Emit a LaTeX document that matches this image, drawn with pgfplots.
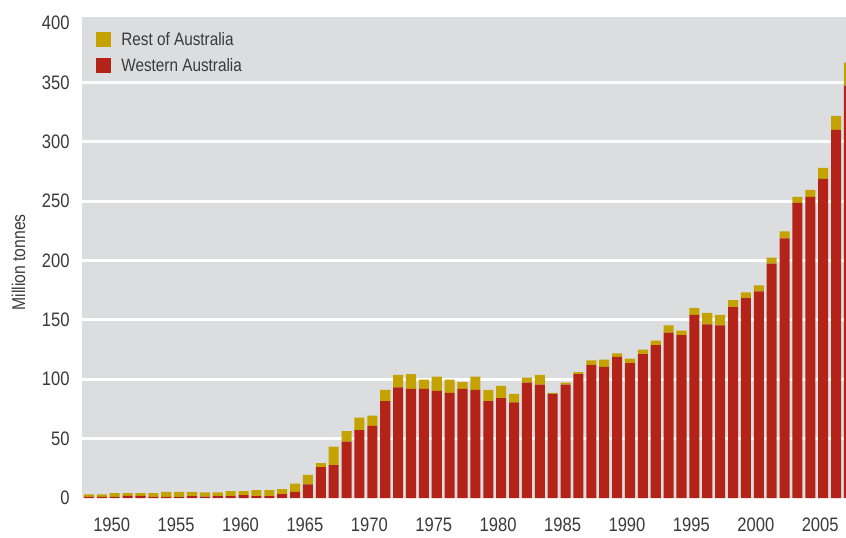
\documentclass[border=0pt]{standalone}
\usepackage{fontspec}
\setmainfont[FakeStretch=0.85]{Liberation Sans}
\usepackage{pgfplots}
\usepackage{pgfplotstable}
\pgfplotsset{compat=1.18}
\definecolor{restAus}{RGB}{196,162,0}
\definecolor{waRed}{RGB}{179,35,24}
\definecolor{panel}{RGB}{220,221,223}
\definecolor{txt}{RGB}{58,58,58}

% iron ore production, million tonnes
\pgfplotstableread{
year wa rest
1948 0.9 2.1
1949 0.9 2.1
1950 0.9 3.3
1951 1.8 2.4
1952 1.8 2.4
1953 0.9 3.3
1954 0.9 4.2
1955 0.9 4.2
1956 1.6 3.5
1957 1.2 3.6
1958 1.5 3.3
1959 1.5 4.2
1960 2.4 3.3
1961 1.5 5.1
1962 1.5 5.1
1963 3.3 4.2
1964 5.1 7.0
1965 11.5 7.9
1966 26.0 3.4
1967 27.6 15.7
1968 47.5 8.8
1969 57.2 10.4
1970 60.7 8.7
1971 81.5 9.6
1972 93.2 10.4
1973 91.9 12.4
1974 91.9 7.8
1975 90.2 11.9
1976 88.5 11.2
1977 91.9 5.7
1978 91.1 11.0
1979 81.5 9.6
1980 84.1 10.4
1981 80.6 7.0
1982 97.1 4.2
1983 95.4 8.2
1984 87.6 0.9
1985 95.4 1.7
1986 104.3 1.6
1987 111.9 3.9
1988 110.4 6.1
1989 118.8 3.0
1990 113.5 3.8
1991 121.1 3.8
1992 128.7 3.8
1993 139.3 6.1
1994 137.1 3.8
1995 154.1 5.9
1996 146.2 9.6
1997 145.4 8.7
1998 160.8 5.8
1999 168.2 5.0
2000 174.0 5.0
2001 197.3 5.0
2002 218.6 6.0
2003 248.5 5.1
2004 253.6 5.9
2005 268.7 9.2
2006 309.9 11.9
2007 347.2 19.4
}\ironore

\begin{document}
\begin{tikzpicture}
\useasboundingbox (-41pt,-19.5pt) rectangle (382pt,249pt);
\begin{axis}[
    at={(0,0)}, anchor=south west,
    scale only axis,
    width=382pt, height=240.5pt,
    ybar stacked,
    bar width=0.78,
    xmin=1947.46, xmax=2006.77,
    ymin=0, ymax=405,
    xtick={1950,1955,...,2005},
    ytick={50,100,...,350},
    extra y ticks={0,400},
    extra y tick style={grid=none},
    ymajorgrids,
    grid style={white, line width=1.5pt},
    axis background/.style={fill=panel},
    axis line style={draw=none},
    major tick length=0pt,
    tick style={draw=none},
    /pgf/number format/assume math mode=true,
    /pgf/number format/1000 sep={},
    tick label style={font=\fontsize{9.75}{11}\selectfont, text=txt},
    xticklabel style={anchor=center, yshift=-13.3pt, xshift=-1.5pt},
    yticklabel style={inner sep=0pt, xshift=-6pt},
    every axis y label/.style={at={(axis description cs:-0.0831,0.49)}, rotate=90, anchor=center},
    ylabel={Million tonnes},
    label style={font=\fontsize{9.25}{11}\selectfont, text=txt},
    reverse legend,
    every axis plot post/.append style={
        legend image code/.code={\fill[##1] (0pt,-3.75pt) rectangle (7.5pt,3.75pt);}},
    legend style={at={(0,1)}, anchor=north west, xshift=7pt, yshift=-4.5pt,
        draw=none, fill=none, inner sep=0pt,
        font=\fontsize{9}{11}\selectfont, text=txt,
        row sep=0pt, column sep=5pt,
        nodes={inner xsep=0pt, inner ysep=0pt, text height=9.5pt, text depth=3.5pt}},
    legend cell align=left,
]
\addplot[fill=waRed, draw=none] table[x=year, y=wa] {\ironore};
\addlegendentry{Western Australia}
\addplot[fill=restAus, draw=none] table[x=year, y=rest] {\ironore};
\addlegendentry{Rest of Australia}
\end{axis}
\end{tikzpicture}
\end{document}
